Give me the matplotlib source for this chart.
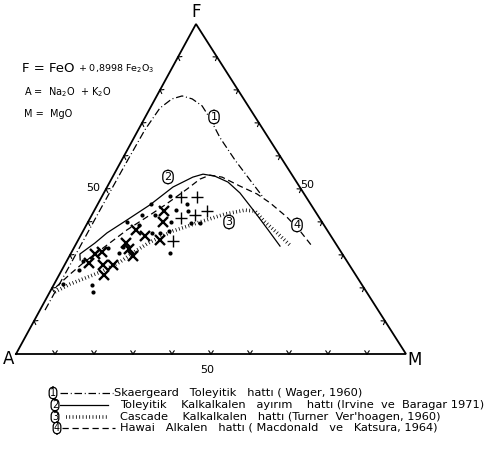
import matplotlib
matplotlib.use("Agg")
import matplotlib.pyplot as plt
import numpy as np

# ---------------- data (ternary %, F = FeO+0.8998Fe2O3, M = MgO; A = 100-F-M) -------------
dots_F = [47.9, 45.5, 45.5, 43.6, 43.3, 42.1, 42.1, 40.0, 39.7, 39.7, 40.0, 39.1,
          36.7, 36.7, 37.3, 30.6, 32.1, 30.6, 32.4, 28.2, 25.5, 21.2, 20.9, 18.8]
dots_M = [17.4, 13.6, 22.9, 20.9, 24.1, 12.9, 16.2, 21.3, 26.5, 28.8, 10.0, 13.5,
          17.9, 20.0, 22.0, 25.4, 8.8, 12.3, 12.5, 4.2, 4.4, 2.3, 9.8, 11.1]

cross_F = [43.3, 40.0, 37.6, 35.8, 34.5, 33.6, 31.8, 29.7, 30.3, 30.9, 27.6, 27.0, 27.0, 23.9]
cross_M = [17.9, 19.2, 13.4, 16.6, 21.0, 12.7, 14.3, 16.3, 6.3, 7.8, 6.0, 9.9, 12.4, 11.5]

plus_F = [47.6, 47.6, 42.1, 43.3, 41.2, 34.2]
plus_M = [20.4, 24.5, 26.5, 29.0, 23.3, 24.5]

# 1: Skaergaard tholeiitic trend (Wager 1960)
c1_F = [13.3, 27.0, 43.6, 57.3, 67.9, 74.5, 77.3, 78.2, 77.3, 75.2, 71.5, 65.5, 58.8, 52.7, 47.9]
c1_M = [1.3, 1.4, 1.4, 1.5, 1.7, 2.5, 4.3, 6.5, 9.5, 13.0, 16.7, 22.1, 29.0, 35.7, 41.0]
# 2: tholeiitic / calc-alkaline divide (Irvine & Baragar 1971)
c2_F = [28.5, 30.3, 33.6, 36.7, 40.6, 45.2, 50.6, 53.6, 54.5, 53.9, 52.1, 48.8, 43.0, 37.6, 32.7]
c2_M = [3.3, 2.4, 4.7, 6.4, 9.7, 13.5, 16.9, 20.6, 22.8, 26.1, 30.3, 34.9, 41.4, 47.3, 52.6]
# 3: Cascade calc-alkaline trend (Turner & Verhoogen 1960)
c3_F = [18.8, 21.2, 23.0, 24.8, 27.9, 31.5, 33.9, 37.3, 40.0, 42.4, 43.6, 43.3, 40.0, 36.7, 33.0]
c3_M = [1.3, 4.1, 7.1, 10.1, 13.8, 16.5, 18.7, 23.1, 28.7, 34.0, 38.6, 41.3, 45.4, 50.0, 55.0]
# 4: Hawaiian alkaline trend (Macdonald & Katsura 1964)
c4_F = [20.3, 24.2, 27.6, 33.0, 37.6, 42.1, 45.2, 50.0, 53.0, 54.2, 53.6, 50.9, 48.5, 45.8, 41.5, 37.3, 32.7]
c4_M = [0.9, 2.7, 4.5, 8.1, 11.1, 14.9, 17.4, 20.8, 22.7, 24.7, 28.1, 33.9, 39.4, 44.0, 50.3, 55.6, 60.8]

tick_values = [10, 20, 30, 40, 50, 60, 70, 80, 90]
axis_label = "50"

legend_labels = [
    "Skaergeard   Toleyitik   hattı ( Wager, 1960)",
    "Toleyitik    Kalkalkalen   ayırım    hattı (Irvine  ve  Baragar 1971)",
    "Cascade    Kalkalkalen   hattı (Turner  Ver'hoagen, 1960)",
    "Hawai   Alkalen   hattı ( Macdonald   ve   Katsura, 1964)",
]

# ---------------- layout ----------------
A_PX = (16.0, 354.0)
M_PX = (406.0, 354.0)
F_PX = (196.0, 24.0)


def tern(F, M):
    f = np.asarray(F, dtype=float) / 100.0
    m = np.asarray(M, dtype=float) / 100.0
    x = A_PX[0] + (M_PX[0] - A_PX[0]) * m + (F_PX[0] - A_PX[0]) * f
    y = A_PX[1] + (M_PX[1] - A_PX[1]) * m + (F_PX[1] - A_PX[1]) * f
    return x, y


fig = plt.figure(figsize=(4.92, 4.5), dpi=100)
ax = fig.add_axes([0, 0, 1, 1])
ax.set_xlim(0, 492)
ax.set_ylim(450, 0)
ax.axis("off")

K = "black"
# triangle
ax.plot([A_PX[0], M_PX[0], F_PX[0], A_PX[0]], [A_PX[1], M_PX[1], F_PX[1], A_PX[1]],
        color=K, lw=1.3, solid_joinstyle="miter")

# chevron ticks along edges
cx = (A_PX[0] + M_PX[0] + F_PX[0]) / 3
cy = (A_PX[1] + M_PX[1] + F_PX[1]) / 3
for P, Q in [(A_PX, M_PX), (M_PX, F_PX), (F_PX, A_PX)]:
    for t in tick_values:
        u = t / 100.0
        px = P[0] + (Q[0] - P[0]) * u
        py = P[1] + (Q[1] - P[1]) * u
        ex, ey = Q[0] - P[0], Q[1] - P[1]
        n = np.array([-ey, ex]) / np.hypot(ex, ey)
        if (cx - px) * n[0] + (cy - py) * n[1] < 0:
            n = -n
        for ang in (np.deg2rad(35), np.deg2rad(-35)):
            ca, sa = np.cos(ang), np.sin(ang)
            d = np.array([ca * n[0] - sa * n[1], sa * n[0] + ca * n[1]])
            ax.plot([px, px + 3.8 * d[0]], [py, py + 3.8 * d[1]], color=K, lw=0.8)

# axis labels
ax.text(196, 12, "F", ha="center", va="center", fontsize=12, color=K)
ax.text(9, 359, "A", ha="center", va="center", fontsize=12, color=K)
ax.text(415, 360, "M", ha="center", va="center", fontsize=12, color=K)
ax.text(207, 370, axis_label, ha="center", va="center", fontsize=8, color=K)
ax.text(93, 188, axis_label, ha="center", va="center", fontsize=8, color=K)
ax.text(307, 185, axis_label, ha="center", va="center", fontsize=8, color=K)

# curves
ls1 = (0, (6, 2.2, 0.8, 2.2))
ls4 = (0, (5, 3))
ls3 = (0, (0.22, 0.7))
x, y = tern(c1_F, c1_M)
ax.plot(x, y, color=K, lw=0.9, ls=ls1)
x, y = tern(c2_F, c2_M)
ax.plot(x, y, color=K, lw=0.9)
x, y = tern(c3_F, c3_M)
ax.plot(x, y, color=K, lw=2.6, ls=ls3, dash_capstyle="butt")
x, y = tern(c4_F, c4_M)
ax.plot(x, y, color=K, lw=0.9, ls=ls4)

# samples
x, y = tern(dots_F, dots_M)
ax.plot(x, y, "o", color=K, ms=3.0, mew=0)
x, y = tern(cross_F, cross_M)
ax.plot(x, y, "x", color=K, ms=6.5, mew=1.7)
x, y = tern(plus_F, plus_M)
ax.plot(x, y, "+", color=K, ms=8, mew=1.0)

box = dict(boxstyle="round,pad=0.15,rounding_size=0.5", fc="white", ec=K, lw=0.9)
for lab, (lx, ly) in zip(["1", "2", "3", "4"], [(214, 117), (168, 177), (229, 222), (297, 225)]):
    ax.text(lx, ly, lab, ha="center", va="center", fontsize=8, color=K, bbox=box)

# formulas
ax.text(22, 68, "F = FeO", ha="left", va="center", fontsize=9.5, color=K)
ax.text(78, 69, "+ 0,8998 Fe$_2$O$_3$", ha="left", va="center", fontsize=6.8, color=K)
ax.text(24, 92, "A =  Na$_2$O  + K$_2$O", ha="left", va="center", fontsize=7, color=K)
ax.text(24, 114, "M =  MgO", ha="left", va="center", fontsize=7, color=K)

# legend
rows_y = [393, 405, 417, 428]
num_x = [53, 55, 55, 57]
seg = [(60, 113, dict(lw=0.9, ls=ls1)), (60, 108, dict(lw=0.9)),
       (66, 107, dict(lw=2.6, ls=ls3, dash_capstyle="butt")), (62, 115, dict(lw=0.9, ls=ls4))]
text_x = [114, 120, 120, 120]
box_small = dict(boxstyle="round,pad=0.08,rounding_size=0.45", fc="white", ec=K, lw=0.9)
for i in range(4):
    yy = rows_y[i]
    ax.text(num_x[i], yy, str(i + 1), ha="center", va="center", fontsize=7, color=K, bbox=box_small)
    x0, x1, kw = seg[i]
    ax.plot([x0, x1], [yy, yy], color=K, **kw)
    ax.text(text_x[i], yy, legend_labels[i], ha="left", va="center", fontsize=8.2, color=K)

fig.savefig("out.png", dpi=100, facecolor="white")
